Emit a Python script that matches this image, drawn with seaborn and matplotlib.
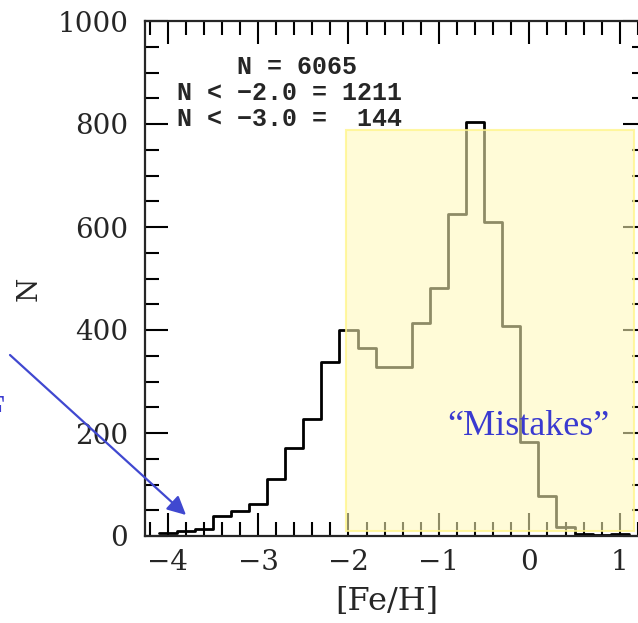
import numpy as np
import pandas as pd
import seaborn as sns
import matplotlib.pyplot as plt
from matplotlib.patches import Rectangle
from matplotlib.ticker import MultipleLocator

# ---- data ----
bin_edges = [-4.1, -3.9, -3.7, -3.5, -3.3, -3.1, -2.9, -2.7, -2.5, -2.3, -2.1,
             -1.9, -1.7, -1.5, -1.3, -1.1, -0.9, -0.7, -0.5, -0.3, -0.1,
             0.1, 0.3, 0.5, 0.7, 0.9, 1.1]
counts = [5, 10, 14, 39, 49, 63, 111, 170, 227, 337, 400,
          366, 329, 329, 414, 481, 625, 803, 610, 408, 183,
          78, 18, 4, 1, 4]
x_ticks = [-4, -3, -2, -1, 0, 1]
y_ticks = [0, 200, 400, 600, 800, 1000]
stats_lines = ["    N = 6065", "N < \u22122.0 = 1211", "N < \u22123.0 =  144"]
mistake_region = {"x0": -2.025, "x1": 1.16, "y0": 10, "y1": 788}

bin_centers = [(a + b) / 2 for a, b in zip(bin_edges[:-1], bin_edges[1:])]
df = pd.DataFrame({"feh": bin_centers, "n": counts})

sns.set_style("ticks")
plt.rcParams["font.family"] = ["DejaVu Serif", "DejaVu Sans"]

W, H = 638, 623
fig = plt.figure(figsize=(W / 100, H / 100), dpi=100)
ax = fig.add_axes([145 / W, 1 - 536 / H, (646 - 145) / W, (536 - 21) / H])

sns.histplot(data=df, x="feh", weights="n", bins=bin_edges, element="step",
             fill=False, color="black", linewidth=2.0, ax=ax)

ax.set_xlim(-4.25, 1.29)
ax.set_ylim(0, 1000)
ax.set_xticks(x_ticks)
ax.set_yticks(y_ticks)
ax.xaxis.set_minor_locator(MultipleLocator(0.2))
ax.yaxis.set_minor_locator(MultipleLocator(50))
ax.tick_params(which="both", direction="in", top=True, right=True,
               width=1.5, color="black")
ax.tick_params(which="major", length=16.5, labelsize=20, pad=9)
ax.tick_params(axis="y", which="major", pad=12)
ax.tick_params(which="minor", length=10)
for s in ax.spines.values():
    s.set_linewidth(1.6)
    s.set_visible(True)

ax.set_xlabel("[Fe/H]", fontsize=23)
ax.set_ylabel("N", fontsize=20)
ax.xaxis.set_label_coords(0.483, -0.098)
ax.yaxis.set_label_coords(-0.205, 0.48)

# stats text
for i, line in enumerate(stats_lines):
    fig.text(177 / W, 1 - (74 + 26 * i) / H, line,
             family=["Liberation Mono", "DejaVu Sans Mono"],
             fontweight="bold", fontsize=18, va="baseline", ha="left")

# yellow overlay
rect = Rectangle((mistake_region["x0"], mistake_region["y0"]),
                 mistake_region["x1"] - mistake_region["x0"],
                 mistake_region["y1"] - mistake_region["y0"],
                 facecolor=(1.0, 0.975, 0.72, 0.56),
                 edgecolor=(1.0, 0.96, 0.55, 0.8), linewidth=1.5,
                 zorder=10, clip_on=False)
ax.add_patch(rect)

blue = "#3a3ad0"
fig.text(528 / W, 1 - 435 / H, "\u201cMistakes\u201d", color=blue,
         family=["Liberation Serif", "DejaVu Serif"], fontsize=26,
         ha="center", va="baseline", zorder=11)

# cropped word at the left edge
fig.text(5 / W, 1 - 420 / H, "F", color=blue,
         family=["Liberation Serif", "DejaVu Serif"], fontsize=26,
         ha="right", va="baseline")

# arrow
fig.add_artist(plt.matplotlib.patches.FancyArrowPatch(
    (10 / W, 1 - 355 / H), (186 / W, 1 - 515 / H),
    transform=fig.transFigure, arrowstyle="-|>", mutation_scale=28,
    color="#4048d0", linewidth=1.6, shrinkA=0, shrinkB=0))

fig.savefig("out.png", dpi=100)
